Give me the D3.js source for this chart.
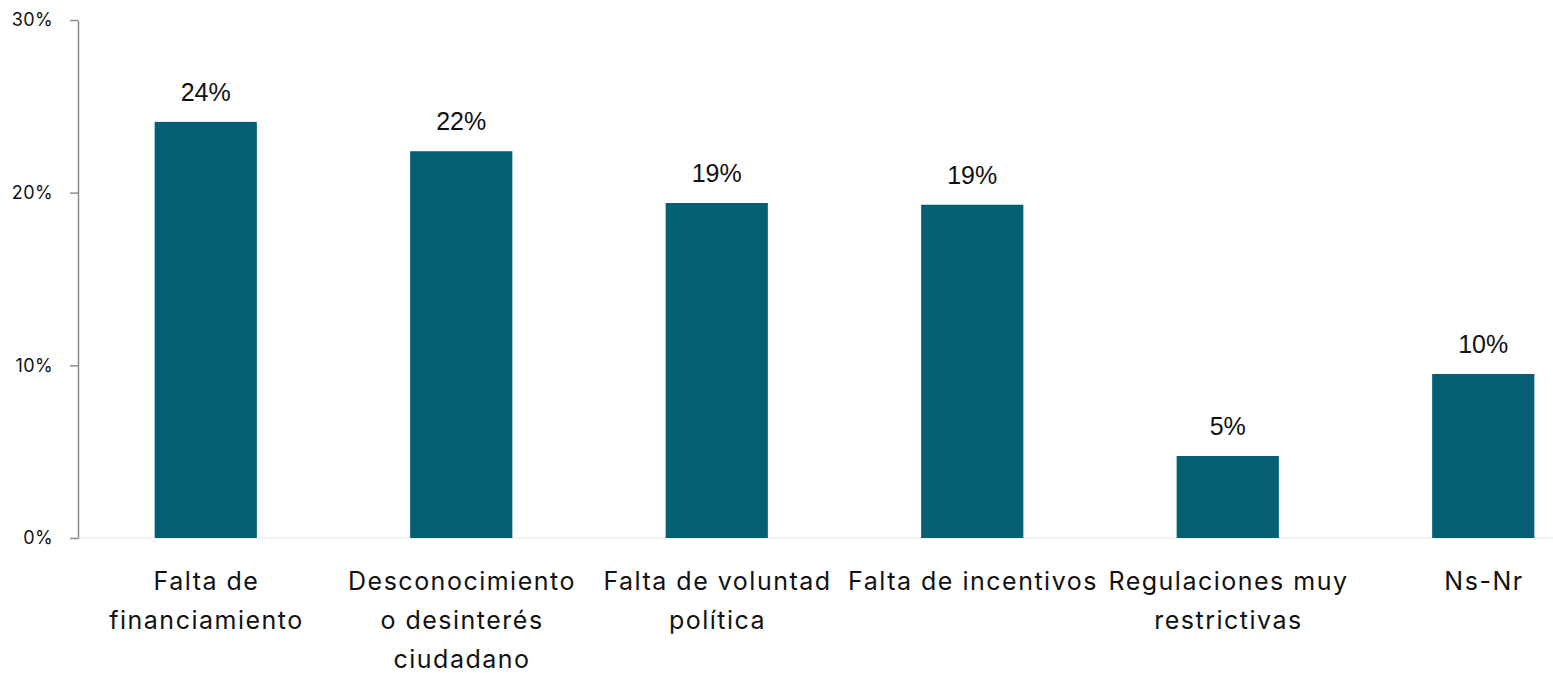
<!DOCTYPE html>
<html>
<head>
<meta charset="utf-8">
<script src="https://cdn.jsdelivr.net/npm/d3@7"></script>
<style>
  html, body { margin: 0; padding: 0; background: #fff; }
  svg { display: block; font-family: Inter, "Open Sans", sans-serif; }
</style>
</head>
<body>
<svg id="chart" width="1553" height="673"></svg>
<script>
// Barriers reported (share of responses, %)
const categories = [
  "Falta de\nfinanciamiento",
  "Desconocimiento\no desinterés\nciudadano",
  "Falta de voluntad\npolítica",
  "Falta de incentivos",
  "Regulaciones muy\nrestrictivas",
  "Ns-Nr"
];
const values = [24.1, 22.4, 19.4, 19.3, 4.75, 9.5];
const yTicks = [0, 10, 20, 30];

const W = 1553, H = 673;
const plotLeft = 78, plotTop = 20, baseY = 538;

const svg = d3.select("#chart");

const x = d3.scaleBand()
  .domain(categories)
  .range([plotLeft, plotLeft + 6 * 255.5])
  .paddingInner(0.6)
  .paddingOuter(0.3);

const y = d3.scaleLinear().domain([0, 30]).range([baseY, plotTop]);

// faint baseline
svg.append("line")
  .attr("x1", plotLeft).attr("x2", W)
  .attr("y1", y(0)).attr("y2", y(0))
  .attr("stroke", "#f0f0f0").attr("stroke-width", 1.5);

// y axis
const yAxis = svg.append("g")
  .attr("transform", `translate(${plotLeft},0)`)
  .call(d3.axisLeft(y).tickValues(yTicks).tickFormat(d => d + "%").tickSize(8).tickSizeOuter(0));
yAxis.select(".domain").attr("stroke", "#8c8c8c").attr("stroke-width", 1.5);
yAxis.selectAll(".tick line").attr("stroke", "#8c8c8c").attr("stroke-width", 1.5);
yAxis.selectAll(".tick text")
  .attr("x", -25)
  .attr("fill", "#111")
  .style("font-size", "18px")
  .style("letter-spacing", "0.4px")
  .style("font-family", "Inter, sans-serif");

// bars
svg.selectAll("rect.bar")
  .data(values)
  .join("rect")
  .attr("class", "bar")
  .attr("x", (d, i) => x(categories[i]))
  .attr("width", x.bandwidth())
  .attr("y", d => y(d))
  .attr("height", d => y(0) - y(d))
  .attr("fill", "#045e74");

// value labels
svg.selectAll("text.val")
  .data(values)
  .join("text")
  .attr("class", "val")
  .attr("x", (d, i) => x(categories[i]) + x.bandwidth() / 2)
  .attr("y", d => y(d) - 21)
  .attr("text-anchor", "middle")
  .attr("fill", "#111")
  .style("font-family", "'Liberation Sans', Arial, sans-serif")
  .style("font-size", "25px")
  .text(d => Math.round(d) + "%");

// category labels
const cat = svg.selectAll("text.cat")
  .data(categories)
  .join("text")
  .attr("class", "cat")
  .attr("text-anchor", "middle")
  .attr("fill", "#111")
  .style("font-size", "25px")
  .style("letter-spacing", "1.5px");
cat.each(function(d) {
  const t = d3.select(this);
  d.split("\n").forEach((line, k) => {
    t.append("tspan")
      .attr("x", x(d) + x.bandwidth() / 2 + 0.75)
      .attr("y", 590 + k * 39)
      .text(line);
  });
});
</script>
</body>
</html>
